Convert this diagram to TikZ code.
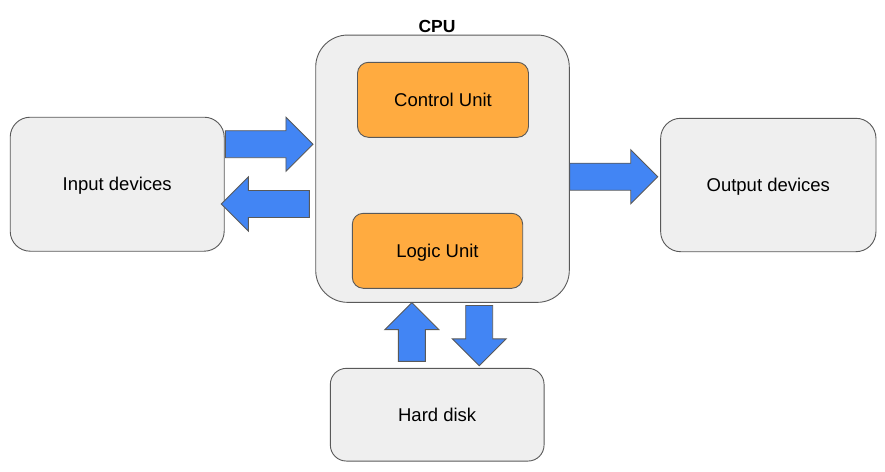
\documentclass[tikz,border=0pt]{standalone}
\usepackage{fontspec}
\setmainfont{Liberation Sans}
\usepackage{tikz}
\usepackage{xcolor}
\usetikzlibrary{positioning}
\definecolor{edgegray}{HTML}{595959}
\definecolor{boxgray}{HTML}{EFEFEF}
\definecolor{unitorange}{HTML}{FFAB40}
\definecolor{flowblue}{HTML}{4285F4}
\tikzset{
    device-box/.style = {draw=edgegray, fill=boxgray, line width=0.9pt, rectangle, rounded corners=20pt, inner sep=0pt, text height=16.7pt, text depth=3.9pt, font=\fontsize{18.5}{22}\selectfont},
    unit-box/.style = {draw=edgegray, fill=unitorange, line width=0.9pt, rectangle, rounded corners=11pt, inner sep=0pt, minimum width=171pt, minimum height=75pt, text height=16.7pt, text depth=3.9pt, font=\fontsize{18.5}{22}\selectfont},
    flow-fill/.style = {draw=edgegray, fill=flowblue, line width=0.9pt, line join=miter},
    pics/flow-arrow/.style = {code={
        \draw[flow-fill] (0,-13.5) -- ({#1-27},-13.5) -- ({#1-27},-27) -- (#1,0)
            -- ({#1-27},27) -- ({#1-27},13.5) -- (0,13.5) -- cycle;
    }},
}

\begin{document}
\begin{tikzpicture}[x=1pt, y=-1pt]
\useasboundingbox (0,0) rectangle (885,471);
% boxes
\node [device-box, minimum width=214pt, minimum height=134pt] (input) at (117.2,184.2) {Input devices};
\node [device-box, rounded corners=32pt, minimum width=253.6pt, minimum height=267.3pt] (cpu) at (442.5,168.7) {};
\node [device-box, minimum width=215.3pt, minimum height=133.4pt] (output) at (768.3,185) {Output devices};
\node [device-box, rounded corners=16pt, minimum width=213.7pt, minimum height=92.7pt] (disk) at (437.2,414.7) {Hard disk};
\node [unit-box] (control) at (443,99.8) {Control Unit};
\node [unit-box, minimum width=170.4pt] (logic) at (437.5,250.8) {Logic Unit};
\node [above=-2pt, xshift=-5.5pt, font=\bfseries\fontsize{17.5}{21}\selectfont] (cpulabel) at (cpu.north) {CPU};
% data flow
\pic at ([xshift=0.7pt, yshift=40pt]input.east) {flow-arrow=87.6};
\pic [rotate=180] at ([xshift=84.7pt, yshift=-19.8pt]input.east) {flow-arrow=88};
\pic at ([yshift=-8pt]cpu.east) {flow-arrow=88};
\pic [rotate=90] at ([xshift=-25.4pt, yshift=6.6pt]disk.north) {flow-arrow=58.7};
\pic [rotate=-90] at ([xshift=36.7pt, yshift=-2.7pt]cpu.south) {flow-arrow=60.3};
\end{tikzpicture}
\end{document}
